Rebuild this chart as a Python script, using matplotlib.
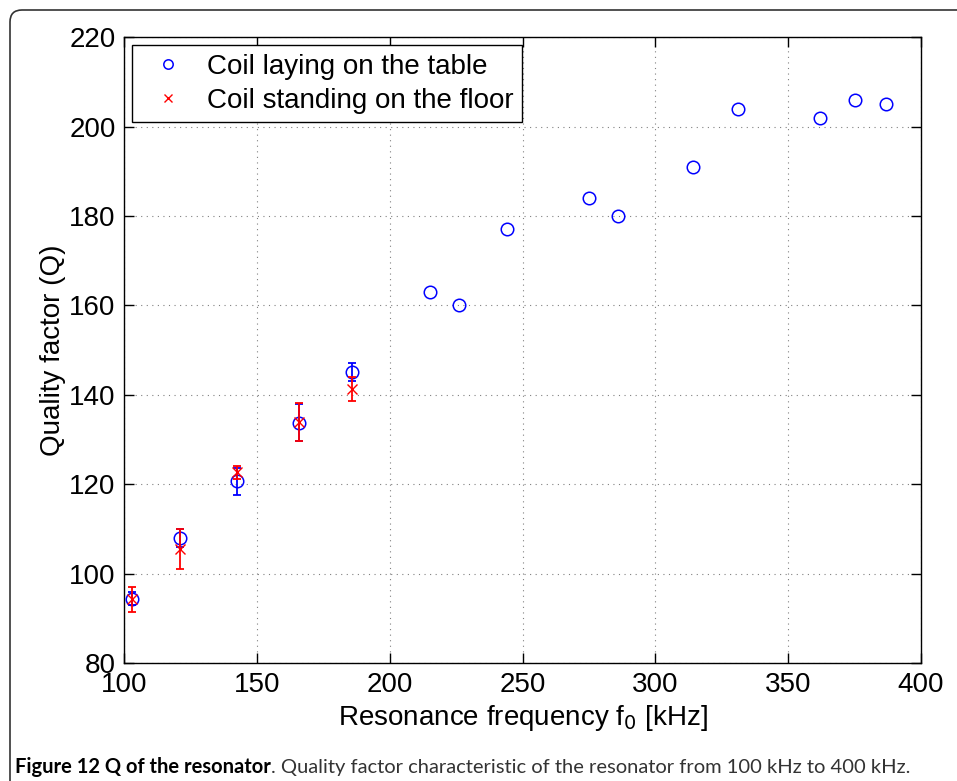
import numpy as np
import matplotlib
matplotlib.use('Agg')
import matplotlib.pyplot as plt
from matplotlib.patches import FancyBboxPatch
from matplotlib.transforms import IdentityTransform

# coil laying on the table
f_table = [103, 121, 142.5, 166, 186, 215, 226, 244, 275, 286, 314, 331, 362, 375, 387]
Q_table = [94.5, 108, 120.7, 133.8, 145.2, 163, 160, 177, 184, 180, 191, 204, 202, 206, 205]
err_table = [1.5, 2.0, 3.0, 4.1, 2.0]   # only the first five have error bars

# coil standing on the floor
f_floor = [103, 121, 142.5, 166, 186]
Q_floor = [94.3, 105.6, 122.7, 133.9, 141.4]
err_floor = [2.8, 4.4, 1.5, 4.2, 2.7]

xticks = [100, 150, 200, 250, 300, 350, 400]
yticks = [80, 100, 120, 140, 160, 180, 200, 220]

plt.rcParams['font.family'] = ['Liberation Sans', 'DejaVu Sans']

fig = plt.figure(figsize=(9.57, 7.81), dpi=100)
ax = fig.add_axes([0.1296, 0.1505, 0.8328, 0.8021])

n = len(err_table)
ax.errorbar(f_table[:n], Q_table[:n], yerr=err_table, fmt='none', ecolor='blue',
            elinewidth=1.3, capsize=3, capthick=1.3, zorder=3)
ax.plot(f_table, Q_table, 'o', mfc='none', mec='blue', ms=9, mew=1.1,
        label='Coil laying on the table', zorder=4)
ax.errorbar(f_floor, Q_floor, yerr=err_floor, fmt='none', ecolor='red',
            elinewidth=1.3, capsize=3, capthick=1.3, zorder=5)
ax.plot(f_floor, Q_floor, 'x', color='red', ms=7, mew=1.0,
        label='Coil standing on the floor', zorder=6)

ax.set_xlim(100, 400)
ax.set_ylim(80, 220)
ax.set_xticks(xticks)
ax.set_yticks(yticks)
ax.grid(True, linestyle=(0, (1, 4)), color='#808080', linewidth=0.8)
ax.tick_params(direction='in', length=7, width=1, top=True, right=True,
               labelsize=20, pad=6)
for s in ax.spines.values():
    s.set_linewidth(1)

ax.set_xlabel(r'Resonance frequency f$_0$ [kHz]', fontsize=20, labelpad=4)
ax.set_ylabel('Quality factor (Q)', fontsize=20, labelpad=2)

leg = ax.legend(loc='upper left', fontsize=20, fancybox=False, edgecolor='black',
                framealpha=1, borderaxespad=0.3, handletextpad=0.4,
                labelspacing=0.3, markerscale=0.75, borderpad=0.3,
                handlelength=2.0)
leg.get_frame().set_linewidth(1)

# outer frame with a rounded top-left corner
frame = FancyBboxPatch((10, -40), 1000, 811, boxstyle='round,pad=0,rounding_size=12',
                       transform=IdentityTransform(), fill=False, edgecolor='#333333',
                       linewidth=1.2)
fig.patches.append(frame)

# caption
t1 = fig.text(15 / 957, 1 - 767 / 781, 'Figure 12 Q of the resonator', fontsize=14.5,
              fontweight='bold', family='Lato', va='center', ha='left')
fig.canvas.draw()
bb = t1.get_window_extent(fig.canvas.get_renderer())
fig.text(bb.x1 / 957, 1 - 767 / 781,
         '. Quality factor characteristic of the resonator from 100 kHz to 400 kHz.',
         fontsize=14.5, family='Lato', va='center', ha='left', color='#333333')

fig.savefig('out.png', dpi=100)
